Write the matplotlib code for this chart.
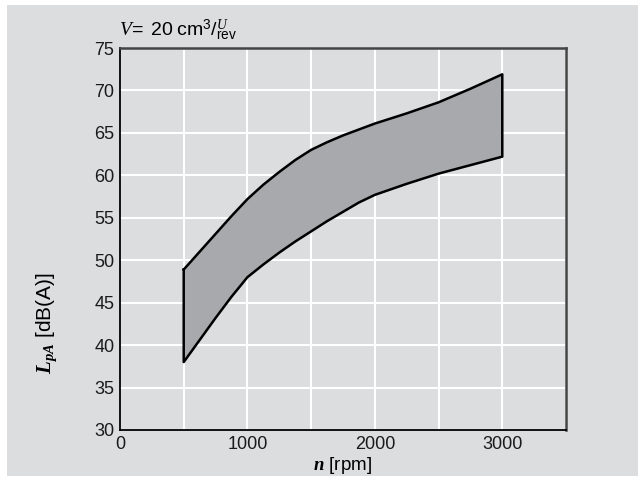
import matplotlib
matplotlib.use("Agg")
import matplotlib.pyplot as plt
from matplotlib.patches import Rectangle

# Data
speed = [500, 625, 750, 875, 1000, 1125, 1250, 1375, 1500, 1625, 1750, 1875, 2000, 2250, 2500, 2750, 3000]
lower = [38.0, 40.6, 43.2, 45.7, 48.0, 49.5, 50.9, 52.2, 53.4, 54.6, 55.7, 56.8, 57.7, 59.0, 60.2, 61.2, 62.2]
upper = [48.9, 51.0, 53.1, 55.2, 57.2, 58.9, 60.4, 61.8, 63.0, 63.9, 64.7, 65.4, 66.1, 67.3, 68.6, 70.2, 71.9]
yticks = [30, 35, 40, 45, 50, 55, 60, 65, 70, 75]

plt.rcParams['mathtext.fontset'] = 'custom'
plt.rcParams['mathtext.rm'] = 'Liberation Sans'
plt.rcParams['mathtext.it'] = 'Liberation Serif:italic'
plt.rcParams['mathtext.bf'] = 'Liberation Serif:italic:bold'
plt.rcParams['font.family'] = ['Liberation Sans', 'DejaVu Sans']

bg = '#dcdddf'
fig = plt.figure(figsize=(6.41, 4.79), dpi=100, facecolor='white')
fig.patches.append(Rectangle((7/641, 3/479), 631/641, 471/479, transform=fig.transFigure,
                             facecolor=bg, edgecolor='none', zorder=-10))
ax = fig.add_axes([120/641, 49/479, 446/641, 382/479])
ax.set_facecolor(bg)

ax.fill_between(speed, lower, upper, color='#a8a9ac', zorder=2, linewidth=0)
xs = speed + speed[::-1] + [speed[0]]
ys = upper + lower[::-1] + [upper[0]]
ax.plot(xs, ys, color='black', lw=1.8, zorder=3, solid_joinstyle='round')

ax.set_xlim(0, 3500)
ax.set_ylim(30, 75)
ax.set_xticks(range(0, 3501, 500))
ax.set_xticklabels(['0', '', '1000', '', '2000', '', '3000', ''])
ax.set_yticks(yticks)
ax.grid(True, color='white', lw=1.5, zorder=1)
ax.set_axisbelow(True)
ax.tick_params(length=0, labelsize=13, pad=4, colors='#1a1a1a')

for s in ['left', 'bottom']:
    ax.spines[s].set_color('black')
    ax.spines[s].set_linewidth(1.3)
for s in ['top', 'right']:
    ax.spines[s].set_color('#444444')
    ax.spines[s].set_linewidth(1.8)

fig.text(343/641, 1 - 466/479, r'$\mathbf{n}$ [rpm]', fontsize=13.5, ha='center', va='center')
fig.text(47/641, 1 - 323/479, r'$\mathbf{L}_{\mathbf{pA}}$ [dB(A)]', fontsize=15,
         ha='center', va='center', rotation=90)
fig.text(119/641, 1 - 30/479, r'$V\!=\ \mathrm{20\ cm}^{3}/{}^{U}_{\mathrm{rev}}$',
         fontsize=14, ha='left', va='center')

fig.savefig('out.png', dpi=100, facecolor=fig.get_facecolor())
